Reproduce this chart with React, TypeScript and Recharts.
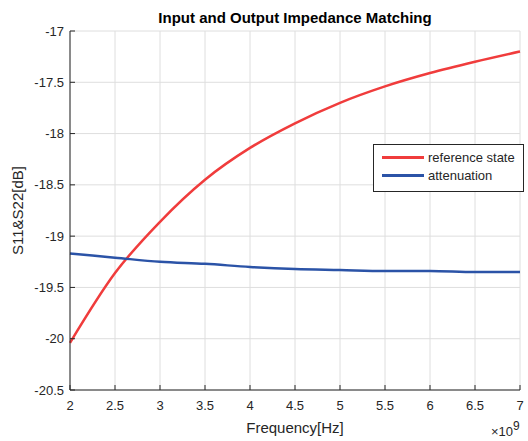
import React from "react";
import {
  LineChart,
  Line,
  XAxis,
  YAxis,
  CartesianGrid,
} from "recharts";

// frequency in units of 1e9 Hz
const freqs = [2, 2.5, 3, 3.5, 4, 4.5, 5, 5.5, 6, 6.5, 7];
const referenceState = [-20.04, -19.36, -18.86, -18.45, -18.14, -17.9, -17.7, -17.54, -17.41, -17.3, -17.2];
const attenuation = [-19.17, -19.21, -19.25, -19.27, -19.3, -19.32, -19.33, -19.34, -19.34, -19.35, -19.35];

const xTicks = [2, 2.5, 3, 3.5, 4, 4.5, 5, 5.5, 6, 6.5, 7];
const yTicks = [-20.5, -20, -19.5, -19, -18.5, -18, -17.5, -17];

const RED = "#f03c3c";
const BLUE = "#2b53a7";
const AXIS = "#262626";
const FONT = "'Liberation Sans', Arial, sans-serif";

const data = freqs.map((f, i) => ({
  f,
  ref: referenceState[i],
  att: attenuation[i],
}));

const legendItems = [
  { name: "reference state", color: RED },
  { name: "attenuation", color: BLUE },
];

// legend drawn as an overlay so it doesn't steal space from the plot
const LegendBox = () => (
  <div
    style={{
      position: "absolute",
      left: 373,
      top: 144,
      border: "1px solid " + AXIS,
      background: "#fff",
      width: 151,
      height: 48,
      boxSizing: "border-box",
      padding: "3px 0 0 8px",
      fontFamily: FONT,
      fontSize: 13,
      color: AXIS,
    }}
  >
    {legendItems.map((it) => (
      <div key={it.name} style={{ display: "flex", alignItems: "center", height: 18 }}>
        <div style={{ width: 42, height: 3, background: it.color, marginRight: 4 }} />
        <span>{it.name}</span>
      </div>
    ))}
  </div>
);

const tickStyle = { fill: AXIS, fontSize: 13, fontFamily: FONT };

export default function App() {
  return (
    <div style={{ position: "absolute", left: 0, top: 0, width: 528, height: 441, background: "#fff" }}>
      <LineChart
        width={528}
        height={441}
        data={data}
        margin={{ top: 31, right: 8, bottom: 0, left: 0 }}
      >
        <text
          x={295}
          y={23}
          textAnchor="middle"
          style={{ fontFamily: FONT, fontSize: 15, fontWeight: "bold", fill: "#000" }}
        >
          Input and Output Impedance Matching
        </text>
        <CartesianGrid stroke="#dedede" strokeWidth={1} />
        <XAxis
          dataKey="f"
          type="number"
          domain={[2, 7]}
          ticks={xTicks}
          tickSize={-5}
          tickLine={{ stroke: AXIS }}
          axisLine={{ stroke: AXIS }}
          tick={tickStyle}
          tickMargin={16}
          height={51}
          label={{
            value: "Frequency[Hz]",
            position: "insideBottom",
            offset: 8,
            style: { fill: AXIS, fontSize: 15, fontFamily: FONT },
          }}
        />
        <XAxis
          xAxisId="top"
          dataKey="f"
          type="number"
          orientation="top"
          domain={[2, 7]}
          ticks={xTicks}
          height={0}
          tickSize={-5}
          tickLine={{ stroke: AXIS }}
          axisLine={{ stroke: AXIS }}
          tick={false}
        />
        <YAxis
          type="number"
          domain={[-20.5, -17]}
          ticks={yTicks}
          width={70}
          tickSize={-5}
          tickLine={{ stroke: AXIS }}
          axisLine={{ stroke: AXIS }}
          tick={tickStyle}
          tickMargin={11}
          label={{
            value: "S11&S22[dB]",
            angle: -90,
            position: "insideLeft",
            offset: 18,
            style: { fill: AXIS, fontSize: 15, fontFamily: FONT, textAnchor: "middle" },
          }}
        />
        <YAxis
          yAxisId="right"
          type="number"
          orientation="right"
          domain={[-20.5, -17]}
          ticks={yTicks}
          width={0}
          tickSize={-5}
          tickLine={{ stroke: AXIS }}
          axisLine={{ stroke: AXIS }}
          tick={false}
        />
        <Line
          type="monotone"
          dataKey="ref"
          name="reference state"
          stroke={RED}
          strokeWidth={2.5}
          dot={false}
          isAnimationActive={false}
        />
        <Line
          type="monotone"
          dataKey="att"
          name="attenuation"
          stroke={BLUE}
          strokeWidth={2.5}
          dot={false}
          isAnimationActive={false}
        />
        <text x={491} y={436} style={{ fontFamily: FONT, fontSize: 13, fill: AXIS }}>
          ×10
          <tspan dy={-6} fontSize={12}>9</tspan>
        </text>
      </LineChart>
      <LegendBox />
    </div>
  );
}
